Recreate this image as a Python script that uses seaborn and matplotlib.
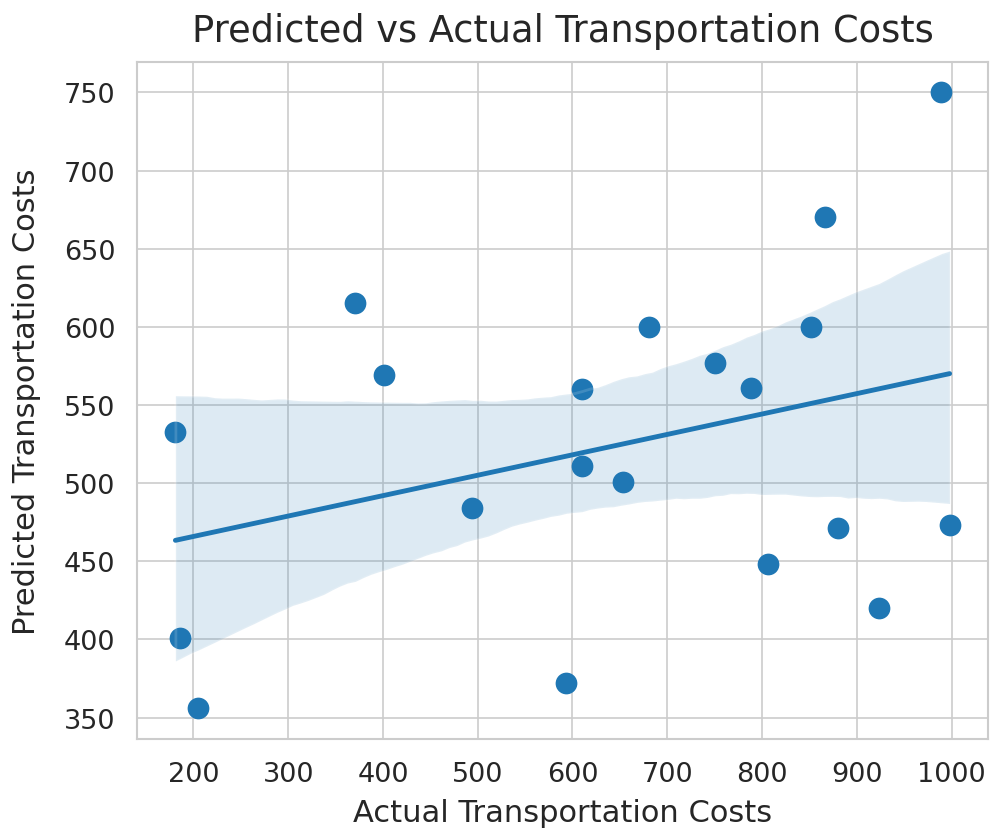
import numpy as np
import pandas as pd
import matplotlib
matplotlib.use("Agg")
import matplotlib.pyplot as plt
import seaborn as sns

actual = [371, 401, 989, 866, 681, 852, 750, 788, 610, 181,
          186, 205, 494, 610, 653, 593, 806, 880, 924, 998]
predicted = [615, 569, 750, 670, 600, 600, 577, 561, 560, 533,
             401, 356, 484, 511, 501, 372, 448, 471, 420, 473]

df = pd.DataFrame({"Actual": actual, "Predicted": predicted})

sns.set_theme(style="whitegrid", context="poster",
              rc={"grid.linewidth": 1.2, "axes.linewidth": 1.5,
                  "xtick.labelsize": 19.5, "ytick.labelsize": 19.5,
                  "axes.labelsize": 22})
plt.rcParams["font.family"] = ["DejaVu Sans"]

fig = plt.figure(figsize=(9.92, 8.37), dpi=100)
ax = fig.add_axes([0.1378, 0.1159, 0.8585, 0.8092])

sns.regplot(data=df, x="Actual", y="Predicted", ax=ax, seed=3,
            color="#1f77b4",
            scatter_kws={"s": 245, "alpha": 1.0, "linewidths": 0},
            line_kws={"linewidth": 3.5})

ax.set_title("Predicted vs Actual Transportation Costs", fontsize=26.5, pad=15)
ax.set_xlabel("Actual Transportation Costs", labelpad=8)
ax.set_ylabel("Predicted Transportation Costs", labelpad=16)
ax.set_xticks([200, 300, 400, 500, 600, 700, 800, 900, 1000])
ax.set_yticks([350, 400, 450, 500, 550, 600, 650, 700, 750])

fig.savefig("out.png", dpi=100)
